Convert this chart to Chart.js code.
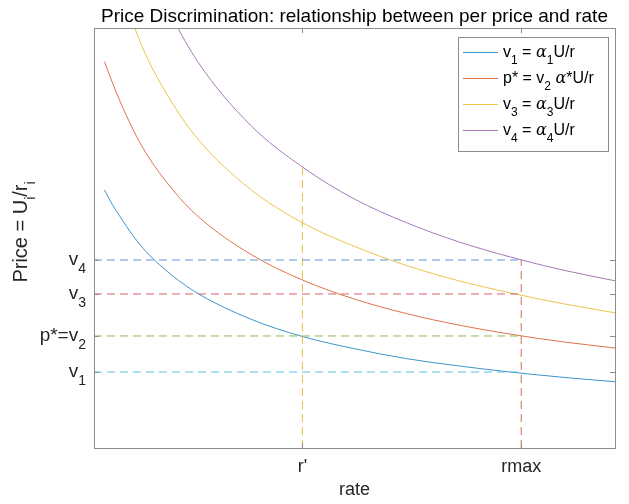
<!DOCTYPE html>
<html>
<head>
<meta charset="utf-8">
<script src="https://cdn.jsdelivr.net/npm/chart.js@4/dist/chart.umd.min.js"></script>
<style>
  body { margin: 0; background: #fff; }
  canvas { display: block; }
</style>
</head>
<body>
<canvas id="priceChart" width="629" height="504"></canvas>
<script>
// Rate samples and price curves v = alpha*U/r
const rate = [0.2, 0.35, 0.5, 0.75, 1, 1.5, 2, 3, 4, 5, 6, 7, 8, 9, 10];
const v1Curve = [3.38, 3.19, 3.03, 2.78, 2.57, 2.26, 2.02, 1.69, 1.46, 1.30, 1.17, 1.075, 0.994, 0.926, 0.868];
const v2Curve = [5.06, 4.79, 4.54, 4.17, 3.86, 3.39, 3.03, 2.54, 2.20, 1.95, 1.76, 1.61, 1.49, 1.39, 1.31];
const v3Curve = [6.80, 6.42, 6.06, 5.56, 5.14, 4.52, 4.04, 3.39, 2.95, 2.64, 2.39, 2.19, 2.03, 1.89, 1.77];
const v4Curve = [8.50, 8.02, 7.58, 6.95, 6.43, 5.65, 5.05, 4.23, 3.68, 3.26, 2.95, 2.70, 2.50, 2.33, 2.19];

// Price levels marked on the y axis (v1, p*=v2, v3, v4)
const priceTicks = [0.995, 1.467, 2.017, 2.462];
const priceTickLabels = [["v", "1"], ["p*=v", "2"], ["v", "3"], ["v", "4"]];

// Marked rates on the x axis
const rateTicks = [4.0, 8.2];
const rateTickLabels = ["r'", "rmax"];
const rPrimeTop = 3.71;   // where the r' guide stops

const curveColors = ["#3d94cc", "#e0724a", "#ecc34a", "#a678b8"];
const levelColors = ["#5cc0e6", "#8dbb55", "#d9606e", "#5f97d6"];
const FONT = "'Liberation Sans', Arial, Helvetica, sans-serif";

const legendRows = [
  [{ t: "v" }, { t: "1", sub: true }, { t: " = " }, { t: "\u03b1", it: true }, { t: "1", sub: true }, { t: "U/r" }],
  [{ t: "p* = v" }, { t: "2", sub: true }, { t: " " }, { t: "\u03b1", it: true }, { t: "*U/r" }],
  [{ t: "v" }, { t: "3", sub: true }, { t: " = " }, { t: "\u03b1", it: true }, { t: "3", sub: true }, { t: "U/r" }],
  [{ t: "v" }, { t: "4", sub: true }, { t: " = " }, { t: "\u03b1", it: true }, { t: "4", sub: true }, { t: "U/r" }]
];

function curve(values) {
  return rate.map((r, i) => ({ x: r, y: values[i] }));
}

// Draw a run of text with subscripts; returns total width
function richText(ctx, parts, x, y, size, align) {
  const subSize = Math.round(size * 0.72);
  const fontFor = p => p.it ? `italic ${p.sub ? subSize : size}px 'DejaVu Serif', serif`
                             : `${p.sub ? subSize : size}px ${FONT}`;
  ctx.textAlign = "left";
  let width = 0;
  parts.forEach(p => { ctx.font = fontFor(p); width += ctx.measureText(p.t).width; });
  let cx = align === "right" ? x - width : align === "center" ? x - width / 2 : x;
  parts.forEach(p => {
    ctx.font = fontFor(p);
    ctx.fillText(p.t, cx, p.sub ? y + size * 0.42 : y);
    cx += ctx.measureText(p.t).width;
  });
  return width;
}

const axesPlugin = {
  id: "axesPlugin",
  afterDraw(chart) {
    const { ctx, chartArea: a, scales } = chart;
    const xs = scales.x, ys = scales.y;
    ctx.save();

    // axis box
    ctx.strokeStyle = "#8c8c8c";
    ctx.lineWidth = 1;
    ctx.strokeRect(a.left + 0.5, a.top + 0.5, a.right - a.left, a.bottom - a.top);

    // inward ticks on all four sides
    ctx.beginPath();
    rateTicks.forEach(v => {
      const px = Math.round(xs.getPixelForValue(v)) + 0.5;
      ctx.moveTo(px, a.bottom); ctx.lineTo(px, a.bottom - 5);
      ctx.moveTo(px, a.top); ctx.lineTo(px, a.top + 5);
    });
    priceTicks.forEach(v => {
      const py = Math.round(ys.getPixelForValue(v)) + 0.5;
      ctx.moveTo(a.left, py); ctx.lineTo(a.left + 5, py);
      ctx.moveTo(a.right, py); ctx.lineTo(a.right - 5, py);
    });
    ctx.stroke();

    ctx.fillStyle = "#262626";
    ctx.textBaseline = "alphabetic";

    // x tick labels and title
    ctx.textAlign = "center";
    ctx.font = `18px ${FONT}`;
    rateTicks.forEach((v, i) => ctx.fillText(rateTickLabels[i], xs.getPixelForValue(v), a.bottom + 24));
    ctx.fillText("rate", (a.left + a.right) / 2, a.bottom + 47);

    // y tick labels
    priceTicks.forEach((v, i) => {
      const py = ys.getPixelForValue(v);
      richText(ctx, [{ t: priceTickLabels[i][0] }, { t: priceTickLabels[i][1], sub: true }], a.left - 8, py + 5, 19, "right");
    });

    // y title, rotated
    ctx.save();
    ctx.translate(27, 232);
    ctx.rotate(-Math.PI / 2);
    richText(ctx, [{ t: "Price = U" }, { t: "i", sub: true }, { t: "/r" }, { t: "i", sub: true }], 0, 0, 20, "center");
    ctx.restore();

    // title
    ctx.textAlign = "center";
    ctx.font = `19px ${FONT}`;
    ctx.fillStyle = "#000";
    ctx.fillText("Price Discrimination: relationship between per price and rate", (a.left + a.right) / 2, 22);

    // legend
    const lx = 458, ly = 37, lw = 150, lh = 114;
    ctx.fillStyle = "#fff";
    ctx.fillRect(lx, ly, lw, lh);
    ctx.strokeStyle = "#8c8c8c";
    ctx.strokeRect(lx + 0.5, ly + 0.5, lw, lh);
    ctx.fillStyle = "#000";
    legendRows.forEach((row, i) => {
      const ry = ly + 15 + i * 26;
      ctx.strokeStyle = curveColors[i];
      ctx.beginPath();
      ctx.moveTo(lx + 5, ry + 0.5); ctx.lineTo(lx + 40, ry + 0.5);
      ctx.stroke();
      richText(ctx, row, lx + 45, ry + 5, 16, "left");
    });

    ctx.restore();
  }
};

const levelSets = priceTicks.map((v, i) => ({
  data: [{ x: 0, y: v }, { x: rateTicks[1], y: v }],
  borderColor: levelColors[i],
  borderDash: [8, 5],
  borderWidth: 1,
  pointRadius: 0
}));

const guideSets = [
  { data: [{ x: rateTicks[0], y: 0 }, { x: rateTicks[0], y: rPrimeTop }], borderColor: "#edb84a" },
  { data: [{ x: rateTicks[1], y: 0 }, { x: rateTicks[1], y: priceTicks[3] }], borderColor: "#dc6d4a" }
].map(d => Object.assign(d, { borderDash: [8, 5], borderWidth: 1, pointRadius: 0 }));

const curveSets = [v1Curve, v2Curve, v3Curve, v4Curve].map((vals, i) => ({
  data: curve(vals),
  borderColor: curveColors[i],
  borderWidth: 1,
  pointRadius: 0,
  cubicInterpolationMode: "monotone"
}));

new Chart(document.getElementById("priceChart"), {
  type: "line",
  data: { datasets: [...levelSets, ...guideSets, ...curveSets] },
  options: {
    responsive: false,
    devicePixelRatio: 1,
    animation: false,
    layout: { padding: { left: 94, top: 28, right: 14, bottom: 56 } },
    plugins: { legend: { display: false }, tooltip: { enabled: false }, title: { display: false } },
    scales: {
      x: { type: "linear", min: 0, max: 10, display: false },
      y: { type: "linear", min: 0, max: 5.5, display: false }
    }
  },
  plugins: [axesPlugin]
});
</script>
</body>
</html>
